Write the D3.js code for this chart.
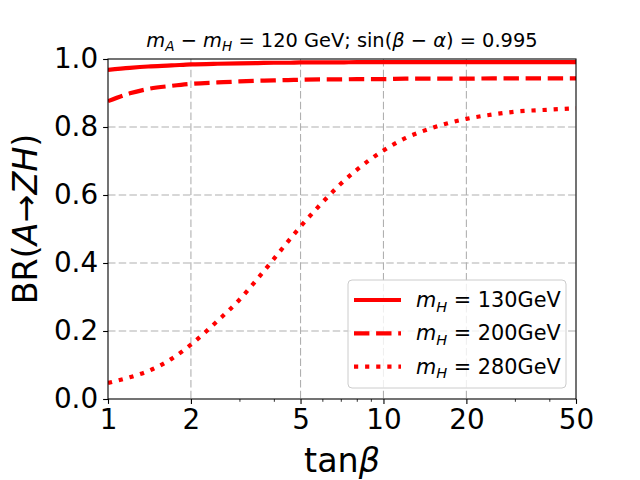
<!DOCTYPE html>
<html>
<head>
<meta charset="utf-8">
<script src="https://cdn.jsdelivr.net/npm/d3@7"></script>
<style>
  body { margin: 0; background: #fff; }
  text { font-family: "DejaVu Sans", sans-serif; fill: #000; }
</style>
</head>
<body>
<svg id="chart" width="640" height="480"></svg>
<script>
// tan(beta) sample points
const tanBeta = [1, 1.2, 1.4, 1.7, 2, 2.5, 3, 3.5, 4, 4.5, 5, 6, 7, 8, 10, 12, 15, 20, 25, 30, 40, 50];

// BR(A -> ZH) for each mH
const br130 = [0.968, 0.974, 0.978, 0.981, 0.984, 0.986, 0.987, 0.988, 0.989, 0.989, 0.990, 0.990, 0.990, 0.991, 0.991, 0.991, 0.991, 0.991, 0.991, 0.991, 0.991, 0.991];
const br200 = [0.876, 0.899, 0.912, 0.921, 0.927, 0.931, 0.934, 0.936, 0.937, 0.938, 0.939, 0.940, 0.940, 0.941, 0.941, 0.942, 0.942, 0.942, 0.943, 0.943, 0.943, 0.943];
const br280 = [0.047, 0.064, 0.082, 0.118, 0.160, 0.230, 0.292, 0.355, 0.412, 0.463, 0.507, 0.578, 0.633, 0.674, 0.731, 0.767, 0.797, 0.824, 0.837, 0.845, 0.851, 0.855];

const seriesNames = ['130GeV', '200GeV', '280GeV'];
const xTicks = [1, 2, 5, 10, 20, 50];
const xMinorTicks = [3, 4, 6, 7, 8, 9, 30, 40];
const yTicks = [0, 0.2, 0.4, 0.6, 0.8, 1.0];

const margin = {left: 108, right: 64, top: 59, bottom: 81};
const width = 640 - margin.left - margin.right;
const height = 480 - margin.top - margin.bottom;

const svg = d3.select('#chart');
svg.append('rect').attr('width', 640).attr('height', 480).attr('fill', '#fff');

const g = svg.append('g')
    .attr('transform', `translate(${margin.left},${margin.top})`);

const x = d3.scaleLog().domain([1, 50]).range([0, width]);
const y = d3.scaleLinear().domain([0, 1]).range([height, 0]);

// grid
const grid = g.append('g').attr('class', 'grid')
    .attr('stroke', '#b0b0b0').attr('stroke-width', 1.1)
    .attr('stroke-dasharray', '7.5,3.2');

grid.selectAll('line.gx')
    .data(xTicks.slice(1, -1))
    .enter().append('line')
    .attr('x1', d => x(d)).attr('x2', d => x(d))
    .attr('y1', 0).attr('y2', height);

grid.selectAll('line.gy')
    .data(yTicks.slice(1, -1))
    .enter().append('line')
    .attr('x1', 0).attr('x2', width)
    .attr('y1', d => y(d)).attr('y2', d => y(d));

// curves
const styles = [
    {data: br130, dash: null},
    {data: br200, dash: '15.4,6.7'},
    {data: br280, dash: '4.2,6.9'}
];

const line = d3.line()
    .x((d, i) => x(tanBeta[i]))
    .y(d => y(d))
    .curve(d3.curveMonotoneX);

g.append('defs').append('clipPath').attr('id', 'clip')
    .append('rect').attr('width', width).attr('height', height);

g.append('g').attr('clip-path', 'url(#clip)')
    .selectAll('path')
    .data(styles)
    .enter().append('path')
    .attr('d', d => line(d.data))
    .attr('fill', 'none')
    .attr('stroke', '#ff0000')
    .attr('stroke-width', 4.2)
    .attr('stroke-dasharray', d => d.dash);

// axes
const tickFont = 27.8;

const xAxis = d3.axisBottom(x)
    .tickValues(xTicks)
    .tickFormat(d3.format('d'))
    .tickSizeInner(4.9).tickSizeOuter(0).tickPadding(5);

const xa = g.append('g')
    .attr('transform', `translate(0,${height})`)
    .call(xAxis);

xa.selectAll('.tick line').attr('stroke', '#000').attr('stroke-width', 1.1);
xa.selectAll('.tick text').attr('font-size', tickFont + 'px').attr('font-family', 'DejaVu Sans').attr('fill', '#000');

const xMinor = g.append('g')
    .attr('transform', `translate(0,${height})`)
    .call(d3.axisBottom(x).tickValues(xMinorTicks).tickFormat('').tickSizeInner(2.8).tickSizeOuter(0));
xMinor.select('.domain').remove();
xMinor.selectAll('.tick line').attr('stroke', '#000').attr('stroke-width', 0.8);

const yAxis = d3.axisLeft(y)
    .tickValues(yTicks)
    .tickFormat(d3.format('.1f'))
    .tickSizeInner(4.9).tickSizeOuter(0).tickPadding(5);

const ya = g.append('g').call(yAxis);
ya.selectAll('.tick line').attr('stroke', '#000').attr('stroke-width', 1.1);
ya.selectAll('.tick text').attr('font-size', tickFont + 'px').attr('font-family', 'DejaVu Sans').attr('fill', '#000');

xa.select('.domain').remove();
ya.select('.domain').remove();

// frame
g.append('rect')
    .attr('width', width).attr('height', height)
    .attr('fill', 'none').attr('stroke', '#000').attr('stroke-width', 1.1);

// helper for text with italic / subscript parts
function richText(sel, parts, size) {
    parts.forEach(p => {
        const t = sel.append('tspan').text(p.t);
        if (p.i) t.attr('font-style', 'italic');
        if (p.sub) t.attr('font-size', (size * 0.7) + 'px').attr('dy', size * 0.22);
        if (p.back) t.attr('dy', -size * 0.22);
    });
}

// title
const titleFont = 19.4;
const title = svg.append('text')
    .attr('x', margin.left + width / 2).attr('y', 47)
    .attr('text-anchor', 'middle').attr('font-size', titleFont + 'px');
richText(title, [
    {t: 'm', i: true}, {t: 'A', i: true, sub: true},
    {t: ' \u2212 ', back: true}, {t: 'm', i: true}, {t: 'H', i: true, sub: true},
    {t: ' = 120 GeV; sin(', back: true}, {t: '\u03B2', i: true}, {t: ' \u2212 '},
    {t: '\u03B1', i: true}, {t: ') = 0.995'}
], titleFont);

// x label
const xl = svg.append('text')
    .attr('x', margin.left + width / 2).attr('y', 472)
    .attr('text-anchor', 'middle').attr('font-size', '33.3px');
richText(xl, [{t: 'tan'}, {t: '\u03B2', i: true}], 33.3);

// y label
const yl = svg.append('text')
    .attr('transform', `translate(37,${margin.top + height / 2 - 10}) rotate(-90)`)
    .attr('text-anchor', 'middle').attr('font-size', '33.3px');
richText(yl, [{t: 'BR('}, {t: 'A', i: true}, {t: '\u2192'}, {t: 'ZH', i: true}, {t: ')'}], 33.3);

// legend
const leg = svg.append('g').attr('transform', 'translate(348,280)');
leg.append('rect')
    .attr('width', 218).attr('height', 108).attr('rx', 4)
    .attr('fill', '#fff').attr('fill-opacity', 0.8)
    .attr('stroke', '#cccccc').attr('stroke-width', 1);

const items = leg.selectAll('g.item')
    .data(styles)
    .enter().append('g')
    .attr('transform', (d, i) => `translate(0,${20 + i * 33.3})`);

items.append('line')
    .attr('x1', 6).attr('x2', 53).attr('y1', 0).attr('y2', 0)
    .attr('stroke', '#ff0000').attr('stroke-width', 4.2)
    .attr('stroke-dasharray', d => d.dash);

items.append('text')
    .attr('x', 68).attr('y', 7)
    .attr('font-size', '20.8px')
    .each(function (d, i) {
        richText(d3.select(this), [
            {t: 'm', i: true}, {t: 'H', i: true, sub: true},
            {t: ' = ' + seriesNames[i], back: true}
        ], 20.8);
    });
</script>
</body>
</html>
